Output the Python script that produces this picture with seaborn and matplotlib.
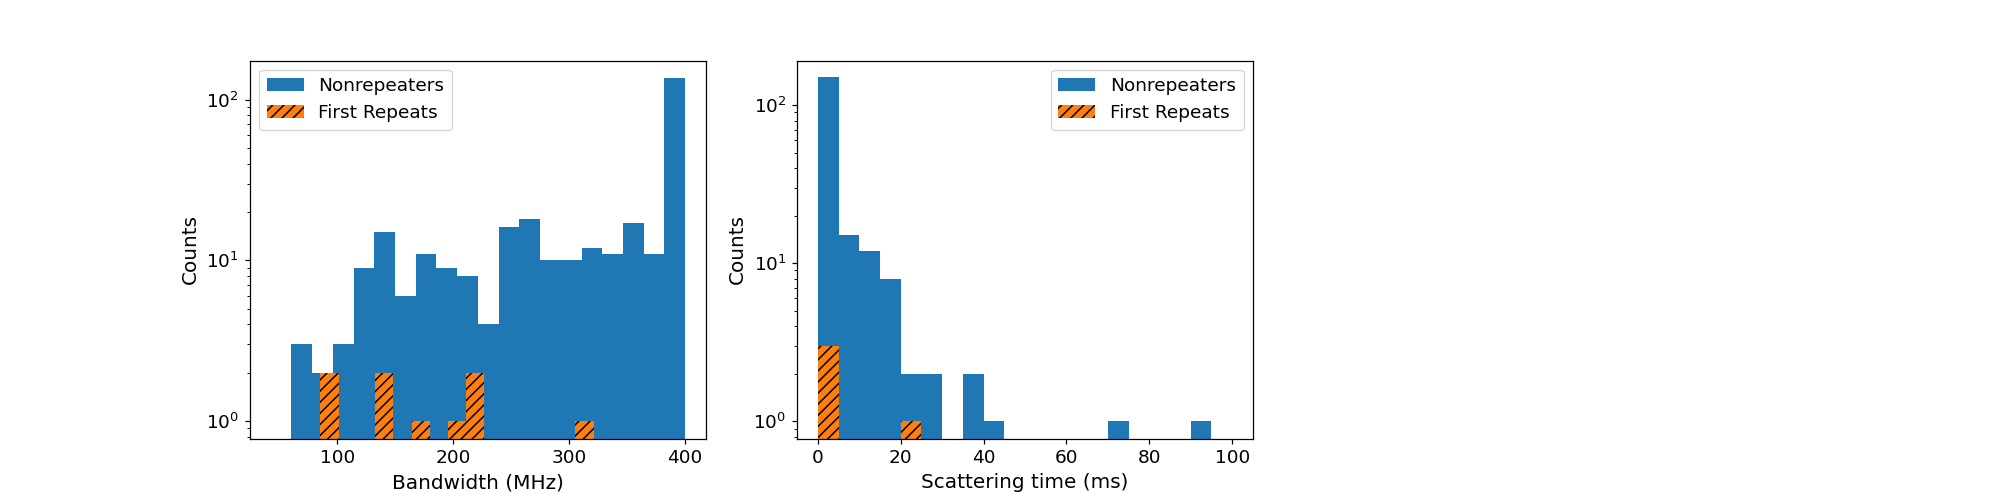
import numpy as np
import pandas as pd
import matplotlib
matplotlib.use("Agg")
import matplotlib.pyplot as plt
from matplotlib.ticker import MultipleLocator
import seaborn as sns

# ---- data ----
# Bandwidth (MHz) histogram
bw_nonrep_edges = list(np.linspace(42.7, 400.0, 21))
bw_nonrep_counts = [0, 3, 2, 3, 9, 15, 6, 11, 9, 8, 4, 16, 18, 10, 10, 12, 11, 17, 11, 137]
bw_rep_edges = list(np.linspace(85.6, 321.1, 16))
bw_rep_counts = [2, 0, 0, 2, 0, 1, 0, 1, 2, 0, 0, 0, 0, 0, 1]

# Scattering time (ms) histogram
sc_nonrep_edges = list(np.arange(0, 105, 5))
sc_nonrep_counts = [150, 15, 12, 8, 2, 2, 0, 2, 1, 0, 0, 0, 0, 0, 1, 0, 0, 0, 1, 0]
sc_rep_edges = list(np.arange(0, 30, 5))
sc_rep_counts = [3, 0, 0, 0, 1]

labels = ["Nonrepeaters", "First Repeats"]
blue = "#1f77b4"
orange = "#ff7f0e"

S = 1.11  # overall size factor of text and ticks
plt.rcParams.update({
    "xtick.major.size": 3.5 * S, "ytick.major.size": 3.5 * S,
    "xtick.minor.size": 2.0 * S, "ytick.minor.size": 2.0 * S,
    "xtick.major.pad": 3.5 * S, "ytick.major.pad": 3.5 * S,
    "axes.labelpad": 4.0 * S,
    "axes.linewidth": 0.8 * S,
    "xtick.major.width": 0.8 * S, "ytick.major.width": 0.8 * S,
    "xtick.minor.width": 0.6 * S, "ytick.minor.width": 0.6 * S,
    "hatch.linewidth": 1.0 * S,
})

fig, axes = plt.subplots(1, 3, figsize=(20, 5), dpi=100)
fig.subplots_adjust(left=0.125, right=0.9, bottom=0.123, top=0.879, wspace=0.2)
axes[2].axis("off")


def frame(edges, counts):
    e = np.asarray(edges, float)
    return pd.DataFrame({"x": (e[:-1] + e[1:]) / 2, "w": np.asarray(counts, float)})


def draw(ax, e1, c1, e2, c2, xlabel, loc, ylim, step):
    sns.histplot(data=frame(e1, c1), x="x", weights="w", bins=[float(v) for v in e1],
                 ax=ax, color=blue, alpha=1, linewidth=0, label=labels[0])
    sns.histplot(data=frame(e2, c2), x="x", weights="w", bins=[float(v) for v in e2],
                 ax=ax, facecolor=orange, alpha=1, linewidth=0, edgecolor="black",
                 hatch="///", label=labels[1])
    ax.set_yscale("log")
    ax.set_ylim(*ylim)
    ax.xaxis.set_major_locator(MultipleLocator(step))
    ax.set_xlabel(xlabel, fontsize=13 * S)
    ax.set_ylabel("Counts", fontsize=13 * S)
    ax.tick_params(labelsize=12 * S)
    ax.legend(loc=loc, fontsize=12 * S)


draw(axes[0], bw_nonrep_edges, bw_nonrep_counts, bw_rep_edges, bw_rep_counts,
     "Bandwidth (MHz)", "upper left", (0.778, 175), 100)
draw(axes[1], sc_nonrep_edges, sc_nonrep_counts, sc_rep_edges, sc_rep_counts,
     "Scattering time (ms)", "upper right", (0.778, 192), 20)

fig.savefig("out.png", dpi=100)
